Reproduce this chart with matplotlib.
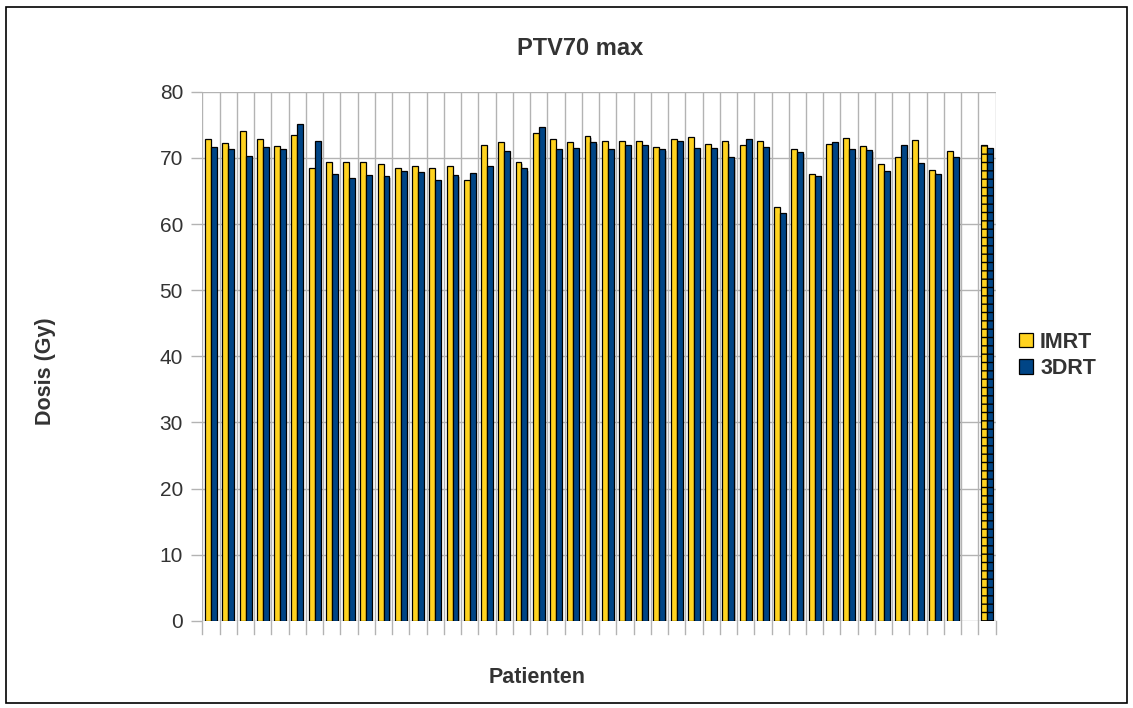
import numpy as np
import matplotlib.pyplot as plt
from matplotlib.patches import Rectangle

plt.rcParams['font.family'] = ['Liberation Sans', 'DejaVu Sans']
plt.rcParams['hatch.linewidth'] = 1.0

# max dose per patient, last entry is the mean (drawn hatched), one empty slot before it
imrt = [72.9, 72.2, 74.1, 72.9, 71.8, 73.5, 68.5, 69.3, 69.3, 69.4, 69.0, 68.4,
        68.7, 68.5, 68.8, 66.6, 71.9, 72.4, 69.4, 73.8, 72.9, 72.4, 73.3, 72.6,
        72.6, 72.5, 71.7, 72.9, 73.1, 72.1, 72.5, 72.0, 72.5, 62.6, 71.3, 67.5,
        72.1, 73.0, 71.8, 69.1, 70.1, 72.7, 68.1, 71.0]
drt3 = [71.7, 71.4, 70.3, 71.7, 71.4, 75.1, 72.6, 67.5, 67.0, 67.4, 67.3, 68.0,
        67.8, 66.6, 67.4, 67.7, 68.7, 71.0, 68.4, 74.7, 71.4, 71.5, 72.4, 71.4,
        71.9, 71.9, 71.4, 72.5, 71.5, 71.5, 70.1, 72.9, 71.7, 61.7, 70.9, 67.3,
        72.4, 71.4, 71.2, 68.0, 71.9, 69.2, 67.5, 70.2]
imrt_mean = 72.0
drt3_mean = 71.5
series_names = ['IMRT', '3DRT']
yticks = [0, 10, 20, 30, 40, 50, 60, 70, 80]

yellow = '#ffd320'
blue = '#004586'
grid_col = '#b3b3b3'
txt_col = '#333333'

fig = plt.figure(figsize=(11.33, 7.08), dpi=100)
ax = fig.add_axes([0.1787, 0.1229, 0.7001, 0.7476])

n = len(imrt)
x = np.arange(n)
w = 0.345
xm = n + 1  # mean slot after one empty slot

def draw_bars(xs, vals, off, color, hatch=None):
    # soft gray shadow first, then the bar itself
    for xi, v in zip(xs, vals):
        ax.add_patch(Rectangle((xi + off + 0.07, 0), w, v - 0.35, facecolor='#9a9a9a',
                               edgecolor='none', alpha=0.6, zorder=2))
    ax.bar(np.asarray(xs) + off + w / 2, vals, width=w, color=color,
           edgecolor='black', linewidth=0.9, hatch=hatch, zorder=3)

draw_bars(x, imrt, -w, yellow)
draw_bars(x, drt3, 0, blue)
draw_bars([xm], [imrt_mean], -w, yellow, hatch='--')
draw_bars([xm], [drt3_mean], 0, blue, hatch='--')

ax.set_xlim(-0.5, n + 1.5)
ax.set_ylim(0, 80)

# category separators and value grid
for xb in np.arange(-0.5, n + 2, 1.0):
    ax.axvline(xb, color=grid_col, lw=1.0, zorder=1)
    ax.plot([xb, xb], [0, -2.0], color=grid_col, lw=1.0, clip_on=False, zorder=1)
for yv in yticks:
    ax.axhline(yv, color=grid_col, lw=1.0, zorder=1)

for s in ax.spines.values():
    s.set_visible(False)
ax.set_xticks([])
ax.set_yticks(yticks)
ax.tick_params(axis='y', length=8, width=1.0, color=grid_col, labelcolor=txt_col,
               labelsize=15, pad=6)

fig.text(0.512, 0.932, 'PTV70 max', ha='center', va='center', fontsize=17,
         fontweight='bold', color=txt_col)
fig.text(0.474, 0.043, 'Patienten', ha='center', va='center', fontsize=15.5,
         fontweight='bold', color=txt_col)
fig.text(0.040, 0.476, 'Dosis (Gy)', ha='center', va='center', rotation=90,
         fontsize=15.5, fontweight='bold', color=txt_col)

handles = [Rectangle((0, 0), 1, 1, facecolor=c, edgecolor='black', linewidth=0.9)
           for c in (yellow, blue)]
leg = fig.legend(handles, series_names, loc='center left', bbox_to_anchor=(0.8994, 0.4979),
                 frameon=False, fontsize=15.5, handlelength=0.65, handleheight=0.65,
                 handletextpad=0.33, labelspacing=0.25, borderpad=0, borderaxespad=0)
for t in leg.get_texts():
    t.set_fontweight('bold')
    t.set_color(txt_col)

# outer frame around the chart
fig.add_artist(Rectangle((0.0053, 0.007), 0.9894, 0.983, transform=fig.transFigure,
                         fill=False, edgecolor='black', linewidth=1.2))

fig.savefig('out.png', dpi=100)
